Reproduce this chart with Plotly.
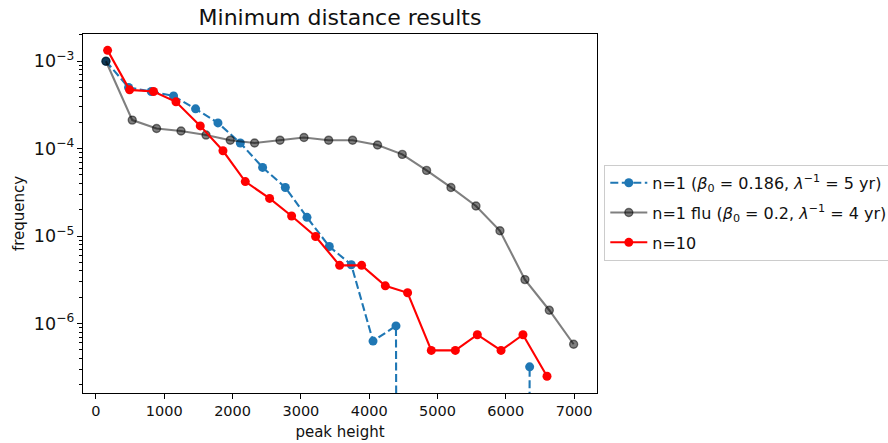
import plotly.graph_objects as go

# ---- data ----
blue_x = [146, 477, 810, 1136, 1458, 1786, 2113, 2439, 2772, 3089, 3416, 3738, 4056, 4392,
          4719, 5046, 5373, 5700, 6027, 6349]
blue_y = [1.0e-3, 5.0e-4, 4.5e-4, 4.0e-4, 2.85e-4, 1.97e-4, 1.16e-4, 6.1e-5, 3.6e-5, 1.64e-5,
          7.6e-6, 4.7e-6, 6.3e-7, 9.4e-7, 0, 0, 0, 0, 0, 3.2e-7]

grey_x = [146, 531, 887, 1245, 1611, 1966, 2322, 2694, 3045, 3406, 3757, 4122, 4484, 4840,
          5197, 5563, 5914, 6280, 6637, 6993]
grey_y = [1.0e-3, 2.12e-4, 1.70e-4, 1.59e-4, 1.43e-4, 1.25e-4, 1.16e-4, 1.25e-4, 1.34e-4,
          1.25e-4, 1.25e-4, 1.10e-4, 8.6e-5, 5.64e-5, 3.6e-5, 2.21e-5, 1.15e-5, 3.18e-6,
          1.42e-6, 5.8e-7]

red_x = [170, 492, 843, 1171, 1527, 1859, 2186, 2542, 2864, 3215, 3567, 3889, 4236, 4562,
         4909, 5261, 5583, 5930, 6251, 6603]
red_y = [1.33e-3, 4.7e-4, 4.5e-4, 3.43e-4, 1.82e-4, 9.46e-5, 4.2e-5, 2.7e-5, 1.7e-5, 9.9e-6,
         4.63e-6, 4.63e-6, 2.7e-6, 2.25e-6, 4.93e-7, 4.93e-7, 7.45e-7, 4.93e-7, 7.45e-7, 2.5e-7]

names = [
    "n=1 (<i>β</i><sub>0</sub> = 0.186, <i>λ</i><sup>−1</sup> = 5 yr)",
    "n=1 flu (<i>β</i><sub>0</sub> = 0.2, <i>λ</i><sup>−1</sup> = 4 yr)",
    "n=10",
]
x_ticks = [0, 1000, 2000, 3000, 4000, 5000, 6000, 7000]

FONT = "DejaVu Sans"


def clip_nonpos(vals):
    # matplotlib clips non-positive values on a log axis far below the view
    return [v if v > 0 else 1e-100 for v in vals]


fig = go.Figure()
fig.add_trace(go.Scatter(
    x=blue_x, y=clip_nonpos(blue_y), name=names[0], mode="lines+markers",
    line=dict(color="#1f77b4", width=2.1, dash="8px,3.5px"),
    marker=dict(color="#1f77b4", size=9, line=dict(width=0)),
    legendgroup="a",
))
fig.add_trace(go.Scatter(
    x=grey_x, y=grey_y, name=names[1], mode="lines+markers",
    line=dict(color="rgba(0,0,0,0.5)", width=2.1),
    marker=dict(color="rgba(0,0,0,0.5)", size=8, line=dict(width=1.4, color="rgba(0,0,0,0.5)")),
    legendgroup="b",
))
fig.add_trace(go.Scatter(
    x=red_x, y=red_y, name=names[2], mode="lines+markers",
    line=dict(color="#ff0000", width=2.1),
    marker=dict(color="#ff0000", size=9, line=dict(width=0)),
    legendgroup="c",
))

fig.update_layout(
    width=888, height=443,
    margin=dict(l=83, r=291, t=34, b=50, autoexpand=False),
    paper_bgcolor="white", plot_bgcolor="white",
    font=dict(family=FONT, size=14, color="#111"),
    title=dict(text="Minimum distance results", x=0.5, xref="paper", xanchor="center",
               y=1 - 17 / 443, yref="container", yanchor="middle",
               font=dict(family=FONT, size=22, color="#111")),
    showlegend=True,
    legend=dict(x=1.0142, xanchor="left", y=0.6356, yanchor="top",
                bordercolor="#cccccc", borderwidth=1, bgcolor="white",
                font=dict(family=FONT, size=16, color="#111"),
                tracegroupgap=6, itemwidth=37),
)
fig.update_xaxes(
    range=[-190, 7335], tickvals=x_ticks, ticktext=[str(t) for t in x_ticks],
    showline=True, mirror=True, linecolor="black", linewidth=1,
    ticks="outside", ticklen=5, tickwidth=1, tickcolor="black",
    showgrid=False, zeroline=False, tickfont=dict(size=14.5), automargin=False,
    title=dict(text="peak height", standoff=8, font=dict(family=FONT, size=15)),
)
fig.update_yaxes(
    type="log", range=[-6.794, -2.689], dtick=1, exponentformat="power",
    showline=True, mirror=True, linecolor="black", linewidth=1,
    ticks="outside", ticklen=5, tickwidth=1, tickcolor="black",
    minor=dict(ticks="outside", ticklen=3, tickwidth=0.8, tickcolor="black", dtick="D1",
               showgrid=False),
    showgrid=False, zeroline=False, tickfont=dict(size=14), automargin=False,
    title=dict(text="frequency", standoff=5, font=dict(family=FONT, size=15)),
)

fig.write_html("out.html")
